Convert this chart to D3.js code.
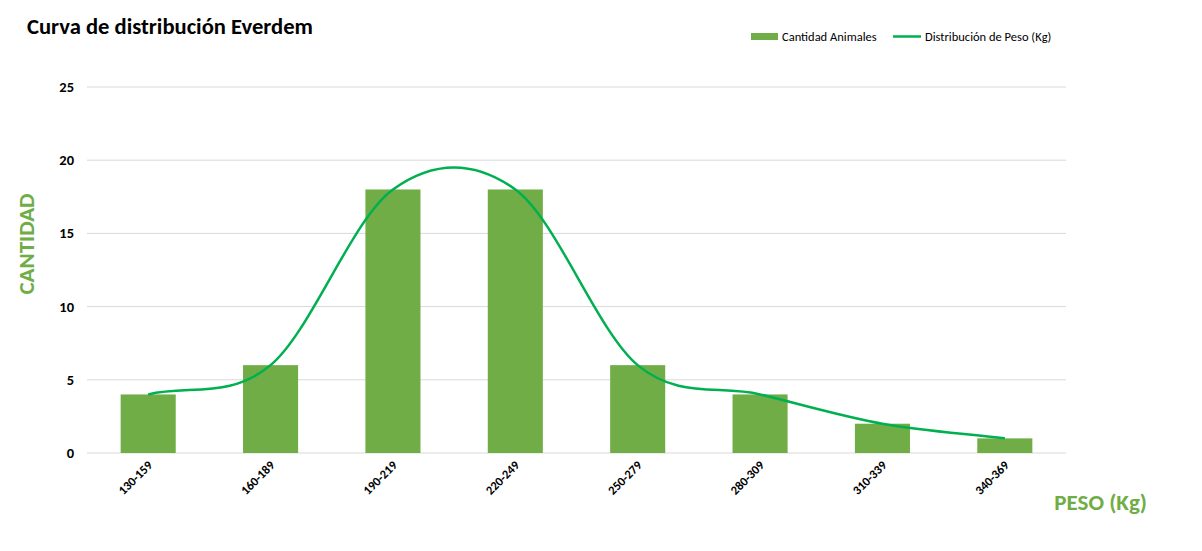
<!DOCTYPE html>
<html><head><meta charset="utf-8">
<script src="https://cdn.jsdelivr.net/npm/d3@7"></script>
<style>body{margin:0;background:#fff;} svg{display:block;}</style>
</head><body>
<svg id="c" width="1202" height="551"></svg>
<script>
const categories = ["130-159","160-189","190-219","220-249","250-279","280-309","310-339","340-369"];
const cantidad = [4,6,18,18,6,4,2,1];
const distribucion = [4,6,18,18,6,4,2,1];
const yTicks = [0,5,10,15,20,25];

// Excel-like smoothed line: Catmull-Rom with reflected phantom end points
function ExcelSmooth(context){ this._context = context; }
ExcelSmooth.prototype = {
  areaStart(){}, areaEnd(){},
  lineStart(){ this._pts = []; },
  point(x, y){ this._pts.push([+x, +y]); },
  lineEnd(){
    const p = this._pts, n = p.length, c = this._context;
    if (!n) return;
    c.moveTo(p[0][0], p[0][1]);
    if (n === 1) return;
    const P = i => i < 0 ? [2*p[0][0]-p[1][0], 2*p[0][1]-p[1][1]]
                 : i >= n ? [2*p[n-1][0]-p[n-2][0], 2*p[n-1][1]-p[n-2][1]] : p[i];
    for (let i = 0; i < n-1; i++){
      const a = P(i-1), b = P(i), d = P(i+1), e = P(i+2);
      c.bezierCurveTo(b[0] + (d[0]-a[0])/6, b[1] + (d[1]-a[1])/6,
                      d[0] - (e[0]-b[0])/6, d[1] - (e[1]-b[1])/6, d[0], d[1]);
    }
  }
};
const curveExcel = ctx => new ExcelSmooth(ctx);

(function(){
const svg = d3.select("#c");
const font = "Calibri, Carlito, 'Open Sans', 'Noto Sans', sans-serif";
const pLeft = 87, pRight = 1066, pTop = 87, pBottom = 453;
const x = d3.scaleBand().domain(categories).range([pLeft, pRight]).padding(0);
const y = d3.scaleLinear().domain([0,25]).range([pBottom, pTop]);

svg.append("g").selectAll("line").data(yTicks).join("line")
  .attr("x1", pLeft).attr("x2", pRight)
  .attr("y1", d=>y(d)).attr("y2", d=>y(d))
  .attr("stroke", "#d9d9d9").attr("stroke-width", 1);

svg.append("g").selectAll("text").data(yTicks).join("text")
  .attr("x", 74).attr("y", d=>y(d)).attr("dy","0.35em")
  .attr("text-anchor","end").attr("font-family", font).attr("font-weight","bold")
  .attr("font-size", 14.5).attr("fill","#000").text(d=>d);

const bw = x.step()*0.45;
svg.append("g").selectAll("rect").data(cantidad).join("rect")
  .attr("x", (d,i)=>x(categories[i]) + x.bandwidth()/2 - bw/2)
  .attr("width", bw)
  .attr("y", d=>y(d)).attr("height", d=>y(0)-y(d))
  .attr("fill", "#70AD47");

const line = d3.line()
  .x((d,i)=>x(categories[i]) + x.bandwidth()/2)
  .y(d=>y(d))
  .curve(curveExcel);
svg.append("path").datum(distribucion).attr("d", line)
  .attr("fill","none").attr("stroke","#00B050").attr("stroke-width",2.5);

svg.append("g").selectAll("text").data(categories).join("text")
  .attr("transform", d=>`translate(${x(d)+x.bandwidth()/2+5},${pBottom+13}) rotate(-45)`)
  .attr("text-anchor","end").attr("font-family", font).attr("font-weight","bold")
  .attr("font-size", 12.5).attr("fill","#000").text(d=>d);

svg.append("text").attr("x", 27).attr("y", 34).attr("font-family", font)
  .attr("font-weight","bold").attr("font-size", 22.6).attr("fill","#000")
  .text("Curva de distribución Everdem");

svg.append("text").attr("transform","translate(34,244) rotate(-90)")
  .attr("text-anchor","middle").attr("font-family", font).attr("font-weight","bold")
  .attr("font-size", 23).attr("fill","#70AD47").text("CANTIDAD");
svg.append("text").attr("x", 1147).attr("y", 510).attr("text-anchor","end")
  .attr("font-family", font).attr("font-weight","bold")
  .attr("font-size", 23).attr("fill","#70AD47").text("PESO (Kg)");

const lg = svg.append("g");
lg.append("rect").attr("x",751).attr("y",33).attr("width",27).attr("height",7).attr("fill","#70AD47");
lg.append("text").attr("x",782).attr("y",40.5).attr("font-family",font).attr("font-size",12.5)
  .attr("fill","#000").text("Cantidad Animales");
lg.append("line").attr("x1",893).attr("x2",921).attr("y1",36.5).attr("y2",36.5)
  .attr("stroke","#00B050").attr("stroke-width",2.5);
lg.append("text").attr("x",925).attr("y",40.5).attr("font-family",font).attr("font-size",12.5)
  .attr("fill","#000").text("Distribución de Peso (Kg)");
})();
</script>
</body></html>
